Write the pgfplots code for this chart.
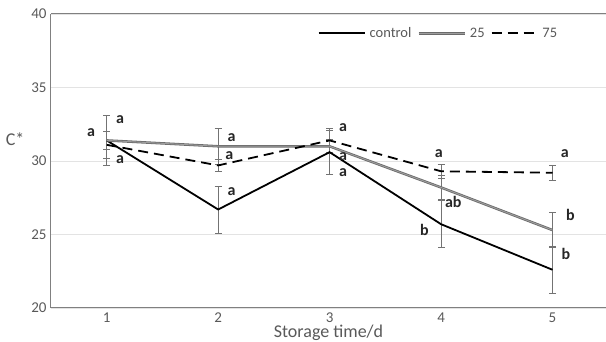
\documentclass[border=0pt]{standalone}
\usepackage{fontspec}
\setmainfont{Carlito}
\usepackage{pgfplots}
\usepackage{pgfplotstable}
\pgfplotsset{compat=1.18}
\definecolor{tickgray}{gray}{0.35}
\definecolor{axgray}{gray}{0.5}
\definecolor{errgray}{gray}{0.45}
\definecolor{ser25}{gray}{0.42}
\definecolor{ser25in}{gray}{0.62}

\pgfplotstableread{
x y e
1 31.4 0.6
2 26.7 1.6
3 30.6 1.5
4 25.7 1.6
5 22.6 1.6
}\control
\pgfplotstableread{
x y e
1 31.4 1.7
2 31.0 1.2
3 31.0 0.5
4 28.2 0.8
5 25.3 1.2
}\twentyfive
\pgfplotstableread{
x y e
1 31.1 0.9
2 29.7 0.4
3 31.4 0.8
4 29.3 0.5
5 29.2 0.5
}\seventyfive

\begin{document}
\begin{tikzpicture}
\useasboundingbox (-51pt,-34pt) rectangle (555pt,308pt);
\begin{axis}[
  scale only axis, width=555pt, height=294pt,
  xmin=0.5, xmax=5.48, ymin=20, ymax=40,
  axis x line=bottom, axis y line=left,
  axis line style={-, axgray, line width=1pt},
  xtick={1,2,3,4,5}, ytick={20,25,30,35,40},
  major tick length=0pt,
  ymajorgrids, grid style={gray!22, line width=0.8pt},
  /pgf/number format/assume math mode=true,
  tick label style={font=\fontsize{15}{15}\selectfont, text=tickgray},
  yticklabel style={xshift=-1pt},
  xticklabel style={inner ysep=1pt, yshift=-4pt},
  xlabel={Storage time/d},
  xlabel style={font=\fontsize{18}{18}\selectfont, text=tickgray, inner ysep=0.5pt, yshift=0pt},
  ylabel={C*},
  ylabel style={font=\fontsize{18}{18}\selectfont, text=tickgray, rotate=-90, at={(ticklabel cs:0.575)}, anchor=east, xshift=0pt},
  legend columns=3,
  legend style={draw=none, fill=none, at={(rel axis cs:0.475,0.968)}, anchor=north west,
    font=\fontsize{14.5}{14.5}\selectfont, text=tickgray,
    nodes={inner xsep=4pt},
    /tikz/every even column/.append style={column sep=2pt}},
  legend image code/.code={\draw[#1] (0pt,0pt) -- (46pt,0pt);},
  clip=false,
]
% error bars
\addplot[forget plot, draw=none, mark=none, error bars/.cd, y dir=both, y explicit,
  error bar style={draw=errgray, line width=0.6pt, solid},
  error mark options={rotate=90, mark size=3.5pt, draw=errgray, line width=0.6pt}]
  table[x=x, y=y, y error=e]{\control};
\addplot[forget plot, draw=none, mark=none, error bars/.cd, y dir=both, y explicit,
  error bar style={draw=errgray, line width=0.6pt, solid},
  error mark options={rotate=90, mark size=3.5pt, draw=errgray, line width=0.6pt}]
  table[x=x, y=y, y error=e]{\twentyfive};
\addplot[forget plot, draw=none, mark=none, error bars/.cd, y dir=both, y explicit,
  error bar style={draw=errgray, line width=0.6pt, solid},
  error mark options={rotate=90, mark size=3.5pt, draw=errgray, line width=0.6pt}]
  table[x=x, y=y, y error=e]{\seventyfive};
% lines
\addplot[black, line width=1.8pt, mark=none] table[x=x, y=y]{\control};
\addlegendentry{control}
\addplot[draw=ser25, double=ser25in, line width=0.8pt, double distance=0.9pt, mark=none] table[x=x, y=y]{\twentyfive};
\addlegendentry{25}
\addplot[black, line width=1.8pt, dash pattern=on 10pt off 6pt, mark=none] table[x=x, y=y]{\seventyfive};
\addlegendentry{75}
% top border
\draw[axgray, line width=1pt] (rel axis cs:0,1) -- (rel axis cs:1,1);
% significance letters
\begin{scope}[every node/.style={font=\fontsize{16}{16}\selectfont\bfseries, text=black!85}]
\node at (axis cs:0.86,31.9) {a};
\node at (axis cs:1.12,32.8) {a};
\node at (axis cs:1.12,30.1) {a};
\node at (axis cs:2.12,31.6) {a};
\node at (axis cs:2.10,30.4) {a};
\node at (axis cs:2.12,27.9) {a};
\node at (axis cs:3.12,32.3) {a};
\node at (axis cs:3.12,30.3) {a};
\node at (axis cs:3.12,29.2) {a};
\node at (axis cs:3.98,30.5) {a};
\node at (axis cs:4.11,27.2) {ab};
\node at (axis cs:3.85,25.3) {b};
\node at (axis cs:5.11,30.5) {a};
\node at (axis cs:5.16,26.3) {b};
\node at (axis cs:5.12,23.7) {b};
\end{scope}
\end{axis}
\end{tikzpicture}
\end{document}
